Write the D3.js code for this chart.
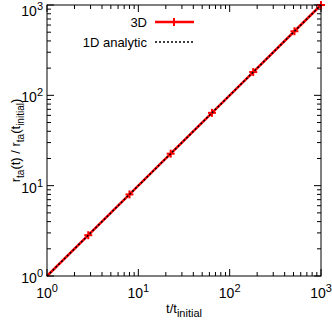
<!DOCTYPE html>
<html>
<head>
<meta charset="utf-8">
<script src="https://cdn.jsdelivr.net/npm/d3@7"></script>
<style>
  body { margin: 0; background: #fff; }
  text { font-family: "Liberation Sans", Arial, sans-serif; fill: #000; }
</style>
</head>
<body>
<div id="chart"></div>
<script>
const W = 332, H = 321;
const margin = {left: 47, right: 11, top: 5, bottom: 45};

// 3D simulation points (t/t_initial, ratio)
const simT = [1, 2.83, 8, 22.6, 64, 181, 512, 1000];
const simR = [1, 2.83, 8, 22.6, 64, 181, 512, 1000];
const markerT = [2.83, 8, 22.6, 64, 181, 512, 1000];
// analytic 1D line endpoints
const anaT = [1, 1000];
const anaR = [1, 1000];
const majorTicks = [1, 10, 100, 1000];
const tickExp = ['0', '1', '2', '3'];

const svg = d3.select('#chart').append('svg').attr('width', W).attr('height', H);

const x = d3.scaleLog().domain([1, 1000]).range([margin.left, W - margin.right]);
const y = d3.scaleLog().domain([1, 1000]).range([H - margin.bottom, margin.top]);

const x0 = x.range()[0], x1 = x.range()[1];
const y0 = y.range()[0], y1 = y.range()[1];

// minor ticks
const minor = [];
for (let d = 1; d < 1000; d *= 10) {
  for (let k = 2; k <= 9; k++) minor.push(d * k);
}

const ticks = svg.append('g').attr('stroke', '#000').attr('stroke-width', 1);
majorTicks.forEach((v) => {
  ticks.append('line').attr('x1', x(v)).attr('x2', x(v)).attr('y1', y0).attr('y2', y0 - 7);
  ticks.append('line').attr('x1', x(v)).attr('x2', x(v)).attr('y1', y1).attr('y2', y1 + 7);
  ticks.append('line').attr('y1', y(v)).attr('y2', y(v)).attr('x1', x0).attr('x2', x0 + 7);
  ticks.append('line').attr('y1', y(v)).attr('y2', y(v)).attr('x1', x1).attr('x2', x1 - 7);
});
minor.forEach((v) => {
  ticks.append('line').attr('x1', x(v)).attr('x2', x(v)).attr('y1', y0).attr('y2', y0 - 4);
  ticks.append('line').attr('x1', x(v)).attr('x2', x(v)).attr('y1', y1).attr('y2', y1 + 4);
  ticks.append('line').attr('y1', y(v)).attr('y2', y(v)).attr('x1', x0).attr('x2', x0 + 4);
  ticks.append('line').attr('y1', y(v)).attr('y2', y(v)).attr('x1', x1).attr('x2', x1 - 4);
});

// tick labels
majorTicks.forEach((v, i) => {
  const tx = svg.append('text').attr('x', x(v)).attr('y', y0 + 22)
    .attr('text-anchor', 'middle').style('font-size', '14px');
  tx.append('tspan').text('10');
  tx.append('tspan').attr('dy', -6).style('font-size', '11px').text(tickExp[i]);

  const ty = svg.append('text').attr('x', x0 - 4).attr('y', Math.max(y(v) + 7, 16))
    .attr('text-anchor', 'end').style('font-size', '14px');
  ty.append('tspan').text('10');
  ty.append('tspan').attr('dy', -6).style('font-size', '11px').text(tickExp[i]);
});

// axis titles
const xt = svg.append('text').attr('x', (x0 + x1) / 2).attr('y', 313)
  .attr('text-anchor', 'middle').style('font-size', '13px');
xt.append('tspan').text('t/t');
xt.append('tspan').attr('dy', 4).style('font-size', '11px').text('initial');

const yt = svg.append('text').attr('transform', `translate(20,${(y0 + y1) / 2}) rotate(-90)`)
  .attr('text-anchor', 'middle').style('font-size', '13px');
yt.append('tspan').text('r');
yt.append('tspan').attr('dy', 4).style('font-size', '10px').text('ta');
yt.append('tspan').attr('dy', -4).text('(t) / r');
yt.append('tspan').attr('dy', 4).style('font-size', '10px').text('ta');
yt.append('tspan').attr('dy', -4).text('(t');
yt.append('tspan').attr('dy', 4).style('font-size', '10px').text('initial');
yt.append('tspan').attr('dy', -4).text(')');

// data
const line = d3.line().x((d) => x(d[0])).y((d) => y(d[1]));
const simData = simT.map((t, i) => [t, simR[i]]);
const anaData = anaT.map((t, i) => [t, anaR[i]]);

svg.append('path').datum(simData).attr('d', line)
  .attr('fill', 'none').attr('stroke', '#f00').attr('stroke-width', 2.5);

const plus = (g, cx, cy, s) => {
  g.append('line').attr('x1', cx - s).attr('x2', cx + s).attr('y1', cy).attr('y2', cy);
  g.append('line').attr('x1', cx).attr('x2', cx).attr('y1', cy - s).attr('y2', cy + s);
};
const mk = svg.append('g').attr('stroke', '#f00').attr('stroke-width', 2);
markerT.forEach((t) => {
  plus(mk, x(t), y(simR[simT.indexOf(t)]), 4);
});

svg.append('path').datum(anaData).attr('d', line)
  .attr('fill', 'none').attr('stroke', '#000').attr('stroke-width', 1.5)
  .attr('stroke-dasharray', '2,2');

// legend
svg.append('text').attr('x', 147).attr('y', 27).attr('text-anchor', 'end')
  .style('font-size', '13px').text('3D');
svg.append('line').attr('x1', 155).attr('x2', 194).attr('y1', 22).attr('y2', 22)
  .attr('stroke', '#f00').attr('stroke-width', 2.5);
const lg = svg.append('g').attr('stroke', '#f00').attr('stroke-width', 2);
plus(lg, 174, 22, 4);

svg.append('text').attr('x', 147).attr('y', 47).attr('text-anchor', 'end')
  .style('font-size', '13px').text('1D analytic');
svg.append('line').attr('x1', 155).attr('x2', 194).attr('y1', 42).attr('y2', 42)
  .attr('stroke', '#000').attr('stroke-width', 1.5).attr('stroke-dasharray', '2,2');

// frame
svg.append('rect').attr('x', x0).attr('y', y1).attr('width', x1 - x0).attr('height', y0 - y1)
  .attr('fill', 'none').attr('stroke', '#000').attr('stroke-width', 1);
</script>
</body>
</html>
